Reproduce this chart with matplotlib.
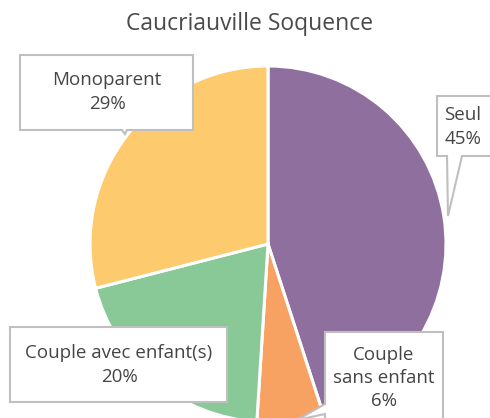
import matplotlib
matplotlib.use("Agg")
import matplotlib.pyplot as plt
from matplotlib.patches import Polygon

plt.rcParams['font.family'] = ['Open Sans', 'DejaVu Sans']

categories = ["Seul", "Couple\nsans enfant", "Couple avec enfant(s)", "Monoparent"]
values = [45, 6, 20, 29]
colors = ["#8E6F9E", "#F7A262", "#89C997", "#FDCA6E"]
title = "Caucriauville Soquence"

W, H = 490, 418
fig = plt.figure(figsize=(W / 100, H / 100), dpi=100)
ax = fig.add_axes([0, 0, 1, 1])

def py(y):
    return H - y

cx, cy, r = 268, py(244), 178
ax.pie(values, colors=colors, startangle=90, counterclock=False,
       center=(cx, cy), radius=r, frame=True,
       wedgeprops=dict(edgecolor='white', linewidth=2.2))
ax.set_xlim(0, W)
ax.set_ylim(0, H)
ax.set_aspect('equal')
ax.axis('off')

ax.text(250, py(24), title, ha='center', va='center', fontsize=16.5, color='#4a4a4a')

edge = '#BFBFBF'
text_color = '#454545'

def callout(pts, text, tx, ty, z=5):
    poly = Polygon([(x, py(y)) for x, y in pts], closed=True, facecolor='white',
                   edgecolor=edge, linewidth=1.5, zorder=z)
    ax.add_patch(poly)
    ax.text(tx, py(ty), text, ha='center', va='center', fontsize=13.5,
            color=text_color, linespacing=1.38, zorder=z + 1)

pcts = [f"{v}%" for v in values]

# Seul
callout([(437, 96), (500, 96), (500, 156), (462, 156), (448, 216), (447, 156), (437, 156)],
        f"{categories[0]}\n{pcts[0]}", 463, 127)
# Monoparent
callout([(20, 55), (193, 55), (193, 130), (127, 130), (125, 134), (122, 130), (20, 130)],
        f"{categories[3]}\n{pcts[3]}", 107, 92)
# Couple avec enfant(s)
callout([(10, 327), (227, 327), (227, 402), (10, 402)],
        f"{categories[2]}\n{pcts[2]}", 119, 365)
# Couple sans enfant
callout([(325, 332), (443, 332), (443, 430), (325, 430), (325, 414), (297, 420), (325, 404)],
        f"{categories[1]}\n{pcts[1]}", 384, 378)

fig.savefig("out.png", dpi=100)
